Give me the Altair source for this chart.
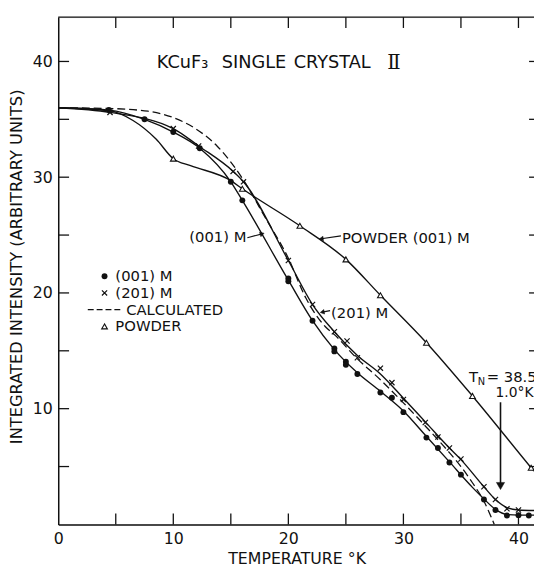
import altair as alt
import pandas as pd

W, H = 483, 515
XMAX, YMAX = 41.35, 43.83
FONT = "DejaVu Sans"
INK = "#111111"

# ---------------- data ----------------
# (001) M, single crystal (filled circles)
t_001 = [4.4, 7.5, 10.0, 12.3, 15.0, 16.0, 20.0, 20.0, 22.1, 24.0, 24.0, 25.0, 25.0,
         26.0, 28.0, 29.0, 30.0, 32.0, 33.0, 34.0, 35.0, 37.0, 38.0, 39.0, 40.0, 40.9]
i_001 = [35.8, 35.0, 33.9, 32.5, 29.6, 28.0, 21.25, 21.0, 17.6, 15.2, 14.95, 14.05, 13.8,
         13.0, 11.4, 10.95, 9.7, 7.5, 6.6, 5.35, 4.3, 2.15, 1.25, 0.77, 0.8, 0.77]
# hand-drawn curve through the (001) M points
ct_001 = [0, 4.4, 7.5, 10.0, 12.3, 15.0, 16.0, 20.0, 22.1, 24.0, 26.0, 28.0, 30.0,
          32.0, 34.0, 36.0, 37.0, 38.0, 39.0, 40.0, 41.35]
ci_001 = [36.0, 35.8, 35.0, 33.9, 32.5, 29.6, 28.0, 21.1, 17.6, 15.1, 13.1, 11.5, 9.8,
          7.6, 5.4, 3.2, 2.2, 1.3, 0.85, 0.8, 0.8]

# (201) M, single crystal (crosses)
t_201 = [4.5, 10.0, 12.2, 15.2, 16.1, 20.0, 22.1, 24.0, 25.1, 26.0, 28.0, 29.0, 30.0,
         31.9, 33.0, 34.0, 35.0, 37.0, 38.0, 39.0, 40.0]
i_201 = [35.6, 34.2, 32.7, 30.5, 29.6, 22.8, 19.0, 16.65, 15.85, 14.4, 13.5, 12.25, 10.8,
         8.8, 7.55, 6.6, 5.65, 3.25, 2.15, 1.35, 1.25]
ct_201 = [0, 4.5, 10.0, 12.2, 15.2, 16.1, 20.0, 22.1, 24.0, 26.0, 28.0, 30.0, 32.0,
          34.0, 35.0, 37.0, 38.0, 39.0, 40.0, 41.35]
ci_201 = [36.0, 35.6, 34.2, 32.7, 30.5, 29.6, 22.8, 19.0, 16.65, 14.6, 13.0, 10.9, 8.75,
          6.6, 5.6, 3.25, 2.15, 1.45, 1.25, 1.2]

# calculated curve (dashed)
t_calc = [0, 4.0, 7.8, 10.0, 12.0, 13.8, 15.0, 16.0, 18.0, 20.0, 21.5, 23.2, 24.0, 26.0,
          28.0, 30.0, 32.0, 34.0, 35.0, 36.0, 37.0, 37.9]
i_calc = [36.0, 35.95, 35.7, 35.15, 34.15, 32.7, 31.3, 29.9, 26.5, 23.0, 19.6, 17.1, 16.4,
          14.3, 12.5, 10.5, 8.4, 6.2, 5.0, 3.6, 2.0, 0.0]

# powder (001) M (open triangles)
t_pow = [10.0, 16.0, 21.0, 25.0, 28.0, 32.0, 36.0, 41.1]
i_pow = [31.6, 29.0, 25.8, 22.9, 19.8, 15.7, 11.1, 4.9]
ct_pow = [0, 4.4, 6.5, 8.5, 10.0, 11.5, 15.0, 16.0, 21.0, 25.0, 28.0, 32.0, 36.0, 41.1, 41.35]
ci_pow = [36.0, 35.75, 34.9, 33.3, 31.6, 31.0, 29.7, 29.0, 25.8, 22.9, 19.8, 15.7, 11.1, 4.9, 4.6]

x_labels = [0, 10, 20, 30, 40]
y_labels = [10, 20, 30, 40]
tick_vals = [5, 10, 15, 20, 25, 30, 35, 40]

# ---------------- chart ----------------
xs = alt.Scale(domain=[0, XMAX], nice=False, zero=False)
ys = alt.Scale(domain=[0, YMAX], nice=False, zero=False)

X = alt.X("T:Q", scale=xs, axis=alt.Axis(
    values=x_labels, title="TEMPERATURE  °K", grid=False, ticks=False, tickSize=0,
    domainColor=INK, domainWidth=1.5, labelFont=FONT, labelFontSize=16, labelColor=INK,
    labelPadding=6, labelFlush=False, titleFont=FONT, titleFontSize=16,
    titleFontWeight="normal", titleColor=INK, titleX=242, titleY=40,
    titleBaseline="alphabetic", titleAlign="center"))
Y = alt.Y("I:Q", scale=ys, axis=alt.Axis(
    values=y_labels, title="INTEGRATED INTENSITY (ARBITRARY UNITS)", grid=False,
    ticks=False, tickSize=0, domainColor=INK, domainWidth=1.5, labelFont=FONT,
    labelFontSize=16, labelColor=INK, labelPadding=6, titleFont=FONT, titleFontSize=16.5,
    titleFontWeight="normal", titleColor=INK, titleX=-37.5, titleY=253,
    titleBaseline="alphabetic", titleAlign="center", titleAngle=270))


def df(t, i):
    return pd.DataFrame({"T": t, "I": i})


one = pd.DataFrame({"_": [0]})

c001 = alt.Chart(df(ct_001, ci_001)).mark_line(
    interpolate="monotone", color=INK, strokeWidth=1.4, clip=True).encode(x=X, y=Y)
c201 = alt.Chart(df(ct_201, ci_201)).mark_line(
    interpolate="monotone", color=INK, strokeWidth=1.4, clip=True).encode(x=X, y=Y)
ccal = alt.Chart(df(t_calc, i_calc)).mark_line(
    interpolate="monotone", color=INK, strokeWidth=1.3, strokeDash=[8, 4], clip=True
).encode(x=X, y=Y)
cpow = alt.Chart(df(ct_pow, ci_pow)).mark_line(
    interpolate="monotone", color=INK, strokeWidth=1.4, clip=True).encode(x=X, y=Y)

p001 = alt.Chart(df(t_001, i_001)).mark_circle(
    size=36, color=INK, opacity=1).encode(x=X, y=Y)
XSHAPE = "M-1,-1L1,1M1,-1L-1,1"
p201 = alt.Chart(df(t_201, i_201)).mark_point(
    shape=XSHAPE, size=28, stroke=INK, strokeWidth=1.2, filled=False, opacity=1
).encode(x=X, y=Y)
ppow = alt.Chart(df(t_pow, i_pow)).mark_point(
    shape="triangle-up", size=34, stroke=INK, fill="white", strokeWidth=1.1,
    filled=True, opacity=1).encode(x=X, y=Y)

ticks = pd.DataFrame({"T": tick_vals, "I": tick_vals})
tick_bottom = alt.Chart(ticks).mark_rule(color=INK, strokeWidth=1.3).encode(
    x=X, y=alt.value(H), y2=alt.value(H - 11))
tick_top = alt.Chart(ticks).mark_rule(color=INK, strokeWidth=1.3).encode(
    x=X, y=alt.value(0), y2=alt.value(11))
tick_left = alt.Chart(ticks).mark_rule(color=INK, strokeWidth=1.3).encode(
    y=Y, x=alt.value(0), x2=alt.value(11))
tick_right = alt.Chart(ticks).mark_rule(color=INK, strokeWidth=1.3).encode(
    y=Y, x=alt.value(W - 5), x2=alt.value(W))
top_line = alt.Chart(one).mark_rule(color=INK, strokeWidth=1.5).encode(
    x=alt.value(0), x2=alt.value(W), y=alt.value(0))


def txt(s, x, y, size=15, align="left", baseline="middle", font=FONT):
    return alt.Chart(one).mark_text(
        text=s, font=font, fontSize=size, color=INK, align=align, baseline=baseline
    ).encode(x=alt.value(x), y=alt.value(y))


def seg(x1, y1, x2, y2, width=1.2, dash=None):
    kw = dict(color=INK, strokeWidth=width)
    if dash:
        kw["strokeDash"] = dash
    return alt.Chart(one).mark_rule(**kw).encode(
        x=alt.value(x1), y=alt.value(y1), x2=alt.value(x2), y2=alt.value(y2))


def head(x, y, shape, angle=0, size=22):
    return alt.Chart(one).mark_point(
        shape=shape, angle=angle, size=size, fill=INK, stroke=INK, strokeWidth=0.5,
        filled=True, opacity=1).encode(x=alt.value(x), y=alt.value(y))


def sym(kind, x, y):
    if kind == "dot":
        return alt.Chart(one).mark_circle(size=36, color=INK, opacity=1).encode(
            x=alt.value(x), y=alt.value(y))
    if kind == "cross":
        return alt.Chart(one).mark_point(shape=XSHAPE, size=28, stroke=INK,
                                         strokeWidth=1.2, filled=False, opacity=1
                                         ).encode(x=alt.value(x), y=alt.value(y))
    return alt.Chart(one).mark_point(shape="triangle-up", size=34, stroke=INK,
                                     fill="white", strokeWidth=1.1, filled=True,
                                     opacity=1).encode(x=alt.value(x), y=alt.value(y))


annotations = [
    # title, word by word to keep the wide lettering
    txt("KCuF₃", 100, 47, size=18),
    txt("SINGLE", 166, 47, size=18),
    txt("CRYSTAL", 239, 47, size=18),
    txt("Ⅱ", 334, 47, size=20, font="DejaVu Serif"),
    # legend
    sym("dot", 47, 263), txt("(001) M", 58, 263),
    sym("cross", 47, 280), txt("(201) M", 58, 280),
    seg(30, 297, 64, 297, width=1.2, dash=[6, 3]), txt("CALCULATED", 69, 297),
    sym("tri", 47, 314), txt("POWDER", 58, 314),
    # curve labels
    txt("(001) M", 191, 223, align="right"),
    seg(192, 224, 207, 220), head(207, 220, "triangle-right", 343),
    txt("POWDER (001) M", 288, 224),
    seg(287, 222, 267, 225), head(267, 225, "triangle-left", 353),
    txt("(201) M", 277, 300),
    seg(276, 298, 268, 299.5), head(268, 299.5, "triangle-left", 350),
    # Neel temperature
    txt("T", 417, 365, size=15),
    txt("N", 426, 370, size=10),
    txt("= 38.5±", 435, 365, size=15),
    txt("1.0°K", 444, 382, size=14),
    seg(449, 391, 449, 474, width=1.6),
    head(449, 476, "triangle-down", 0, size=70),
]

chart = alt.layer(
    c001, c201, ccal, cpow, p001, p201, ppow,
    tick_bottom, tick_top, tick_left, tick_right, top_line,
    *annotations
).properties(
    width=W, height=H,
    autosize=alt.AutoSizeParams(type="none"),
    padding={"left": 51, "top": 5, "right": 0, "bottom": 41},
).configure_view(stroke=None).configure(background="white")

chart.save("out.html", embed_options={"renderer": "svg", "actions": False})
